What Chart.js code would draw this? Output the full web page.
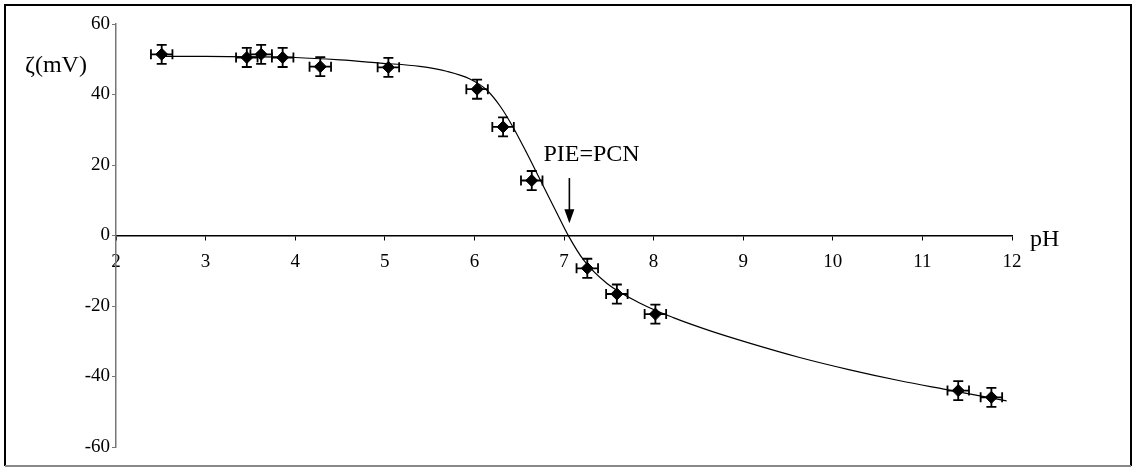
<!DOCTYPE html>
<html>
<head>
<meta charset="utf-8">
<script src="https://cdn.jsdelivr.net/npm/chart.js@4.4.1/dist/chart.umd.min.js"></script>
<style>
  html, body { margin: 0; padding: 0; background: #fff; }
  #wrap { width: 1132px; height: 467px; }
</style>
</head>
<body>
<div id="wrap"><canvas id="grafico" width="1132" height="467"></canvas></div>
<script>
// pontos medidos (pH, zeta em mV)
const phMedido = [2.51, 3.46, 3.62, 3.86, 4.28, 5.04, 6.03, 6.32, 6.64, 7.26, 7.59, 8.02, 11.40, 11.77];
const zetaMedido = [51.4, 50.5, 51.4, 50.5, 47.9, 47.7, 41.5, 30.8, 15.6, -9.3, -16.6, -22.3, -44.0, -45.9];
const erroPh = [0.12, 0.12, 0.12, 0.12, 0.12, 0.12, 0.12, 0.12, 0.12, 0.12, 0.12, 0.12, 0.12, 0.12];
const erroZeta = [2.7, 2.7, 2.7, 2.7, 2.7, 2.7, 2.7, 2.7, 2.7, 2.7, 2.7, 2.7, 2.7, 2.7];

// curva ajustada
const phCurva = [2.5, 3.0, 3.5, 4.0, 4.5, 4.95, 5.39, 5.69, 5.95, 6.14, 6.29, 6.43, 6.58, 6.73, 6.84, 6.92, 7.05, 7.22, 7.48, 7.85, 8.22, 8.65, 9.08, 9.63, 10.19, 10.75, 11.27, 11.94];
const zetaCurva = [50.8, 50.8, 50.7, 50.5, 49.8, 48.9, 48.0, 46.6, 44.4, 41.2, 36.6, 30.8, 23.6, 16.0, 10.4, 6.4, -0.1, -7.0, -13.6, -19.2, -23.3, -27.2, -30.6, -34.6, -38.1, -41.2, -43.7, -46.9];

// eixos
const ticksPh = [2, 12, 1];
const ticksZeta = [-60, 60, 20];

// anotacao PIE=PCN (seta em pH 7.06)
const textoPie = 'PIE=PCN';
const posTextoPie = [6.77, 21.1];
const seta = [7.06, 16.3, 3.5];

const fonte = '"Liberation Serif", "Times New Roman", serif';

const pontos = phMedido.map((x, i) => ({ x: x, y: zetaMedido[i] }));
const curva = phCurva.map((x, i) => ({ x: x, y: zetaCurva[i] }));

const extras = {
    id: 'extras',
    afterDatasetsDraw(chart) {
        const ctx = chart.ctx;
        const sx = chart.scales.x, sy = chart.scales.y;

        // barras de erro
        ctx.save();
        ctx.strokeStyle = '#000';
        ctx.lineWidth = 1.8;
        phMedido.forEach((x, i) => {
            const y = zetaMedido[i];
            const px = sx.getPixelForValue(x), py = sy.getPixelForValue(y);
            const x1 = sx.getPixelForValue(x - erroPh[i]), x2 = sx.getPixelForValue(x + erroPh[i]);
            const y1 = sy.getPixelForValue(y + erroZeta[i]), y2 = sy.getPixelForValue(y - erroZeta[i]);
            ctx.beginPath();
            ctx.moveTo(x1, py); ctx.lineTo(x2, py);
            ctx.moveTo(x1, py - 5); ctx.lineTo(x1, py + 5);
            ctx.moveTo(x2, py - 5); ctx.lineTo(x2, py + 5);
            ctx.moveTo(px, y1); ctx.lineTo(px, y2);
            ctx.moveTo(px - 5, y1); ctx.lineTo(px + 5, y1);
            ctx.moveTo(px - 5, y2); ctx.lineTo(px + 5, y2);
            ctx.stroke();
        });

        // seta
        const ax = sx.getPixelForValue(seta[0]);
        const ay1 = sy.getPixelForValue(seta[1]), ay2 = sy.getPixelForValue(seta[2]);
        ctx.lineWidth = 1.6;
        ctx.beginPath();
        ctx.moveTo(ax, ay1); ctx.lineTo(ax, ay2 - 10);
        ctx.stroke();
        ctx.fillStyle = '#000';
        ctx.beginPath();
        ctx.moveTo(ax - 5, ay2 - 14);
        ctx.lineTo(ax + 5, ay2 - 14);
        ctx.lineTo(ax, ay2);
        ctx.closePath();
        ctx.fill();

        // textos
        ctx.font = '24px ' + fonte;
        ctx.textBaseline = 'alphabetic';
        ctx.textAlign = 'left';
        ctx.fillText(textoPie, sx.getPixelForValue(posTextoPie[0]), sy.getPixelForValue(posTextoPie[1]));
        ctx.fillText('ζ(mV)', 25, 72);
        ctx.fillText('pH', chart.chartArea.right + 18, sy.getPixelForValue(0) + 10);

        // moldura
        ctx.lineWidth = 2;
        ctx.strokeStyle = '#000';
        ctx.beginPath();
        ctx.moveTo(5, 466); ctx.lineTo(5, 5); ctx.lineTo(1131, 5); ctx.lineTo(1131, 466);
        ctx.stroke();
        ctx.strokeStyle = '#888';
        ctx.beginPath();
        ctx.moveTo(5, 466); ctx.lineTo(1131, 466);
        ctx.stroke();
        ctx.restore();
    }
};

new Chart(document.getElementById('grafico'), {
    type: 'scatter',
    data: {
        datasets: [
            {
                label: 'ajuste',
                data: curva,
                showLine: true,
                borderColor: '#000',
                borderWidth: 1.2,
                pointRadius: 0,
                cubicInterpolationMode: 'monotone',
                order: 2
            },
            {
                label: 'medido',
                data: pontos,
                pointStyle: 'rectRot',
                pointRadius: 6,
                pointBackgroundColor: '#000',
                pointBorderColor: '#000',
                borderWidth: 1,
                order: 1
            }
        ]
    },
    options: {
        responsive: false,
        animation: false,
        layout: { padding: { top: 24, bottom: 20, left: 0, right: 120 } },
        plugins: { legend: { display: false }, tooltip: { enabled: false } },
        scales: {
            x: {
                type: 'linear',
                position: { y: 0 },
                min: ticksPh[0],
                max: ticksPh[1],
                ticks: { stepSize: ticksPh[2], color: '#000', font: { family: fonte, size: 19 }, padding: 11 },
                grid: { drawOnChartArea: false, tickLength: 4, color: '#000' },
                border: { color: '#000', width: 1.5 }
            },
            y: {
                type: 'linear',
                min: ticksZeta[0],
                max: ticksZeta[1],
                afterFit: function(scale) { scale.width = 116; },
                ticks: { stepSize: ticksZeta[2], color: '#000', font: { family: fonte, size: 19 }, padding: 2 },
                grid: { drawOnChartArea: false, tickLength: 4, color: '#777' },
                border: { color: '#777', width: 1.5 }
            }
        }
    },
    plugins: [extras]
});
</script>
</body>
</html>
